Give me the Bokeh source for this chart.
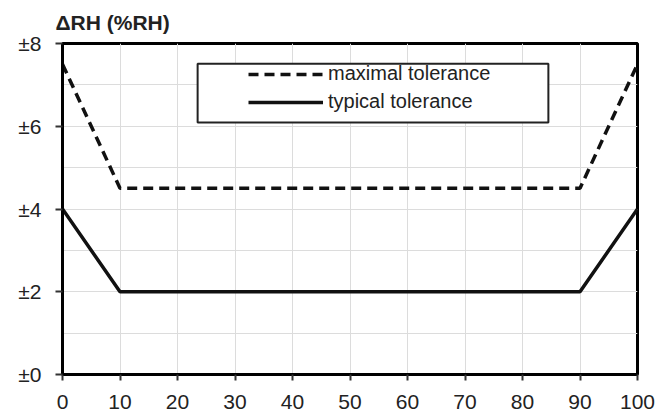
from bokeh.plotting import figure
from bokeh.models import FixedTicker, Legend, LegendItem, BoxAnnotation, Range1d
from bokeh.embed import file_html
from bokeh.resources import INLINE

# Data
rh = [0, 10, 90, 100]
maximal_tol = [7.5, 4.5, 4.5, 7.5]
typical_tol = [4.0, 2.0, 2.0, 4.0]
x_ticks = [0, 10, 20, 30, 40, 50, 60, 70, 80, 90, 100]
y_ticks = [0, 2, 4, 6, 8]
y_tick_labels = ["±0", "±2", "±4", "±6", "±8"]
y_grid = [0, 1, 2, 3, 4, 5, 6, 7, 8]
series_names = ["maximal tolerance", "typical tolerance"]
title_text = "ΔRH (%RH)"
# legend frame (data units)
legend_box = dict(left=23.5, right=84.5, bottom=6.09, top=7.51)

p = figure(width=663, height=419, output_backend="svg", toolbar_location=None,
           x_range=Range1d(0, 100), y_range=Range1d(0, 8),
           min_border_left=62, min_border_right=26, min_border_top=43, min_border_bottom=45)

p.title.text = title_text
p.title.text_font = "Liberation Sans"
p.title.text_font_style = "bold"
p.title.text_font_size = "21px"
p.title.text_color = "#222222"
p.title.offset = -7
p.title.standoff = 16
p.title.vertical_align = "top"

p.outline_line_color = "black"
p.outline_line_width = 3
p.background_fill_color = "white"
p.border_fill_color = "white"

p.xaxis.ticker = FixedTicker(ticks=x_ticks)
p.yaxis.ticker = FixedTicker(ticks=y_ticks)
p.yaxis.major_label_overrides = {t: l for t, l in zip(y_ticks, y_tick_labels)}
for ax in (p.xaxis, p.yaxis):
    ax.axis_line_color = "black"
    ax.axis_line_width = 3
    ax.major_tick_line_color = "#333333"
    ax.major_tick_line_width = 2
    ax.major_tick_in = 0
    ax.minor_tick_line_color = None
    ax.major_label_text_font = "Liberation Sans"
    ax.major_label_text_color = "#222222"
p.xaxis.major_tick_out = 6
p.yaxis.major_tick_out = 7
p.xaxis.major_label_text_font_size = "21px"
p.yaxis.major_label_text_font_size = "21px"
p.xaxis.major_label_standoff = 14
p.yaxis.major_label_standoff = 14

p.xgrid.ticker = FixedTicker(ticks=x_ticks)
p.ygrid.ticker = FixedTicker(ticks=y_grid)
p.xgrid.grid_line_color = "#dcdcdc"
p.ygrid.grid_line_color = "#dcdcdc"
p.xgrid.grid_line_width = 1
p.ygrid.grid_line_width = 1

r_max = p.line(rh, maximal_tol, line_color="#111111", line_width=3.5, line_dash="10 6")
r_typ = p.line(rh, typical_tol, line_color="#111111", line_width=3.5)

box = BoxAnnotation(fill_color="white", fill_alpha=1.0, line_color="#222222", line_alpha=1.0,
                    line_width=2, level="underlay", **legend_box)
p.add_layout(box)

legend = Legend(items=[LegendItem(label=series_names[0], renderers=[r_max]),
                       LegendItem(label=series_names[1], renderers=[r_typ])],
                location=(186, 261), padding=0, spacing=5,
                glyph_width=75, glyph_height=20, label_height=20, label_standoff=5,
                border_line_color=None, background_fill_alpha=0,
                label_text_font="Liberation Sans", label_text_font_size="20px",
                label_text_color="#222222")
p.add_layout(legend)

open("out.html", "w").write(file_html(p, INLINE))
